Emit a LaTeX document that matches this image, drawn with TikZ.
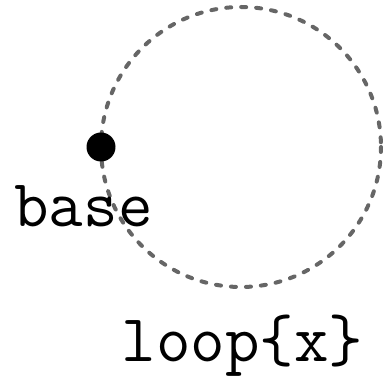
\documentclass[tikz,border=0pt]{standalone}
\begin{document}
\begin{tikzpicture}[x=1pt,y=-1pt,
  lbl/.style={font=\fontsize{67}{72}\selectfont\ttfamily, inner sep=0pt, anchor=base},
  loopline/.style={draw={rgb,255:red,102;green,102;blue,102}, line width=4pt, dash pattern=on 5pt off 10pt, line cap=round},
  dot/.style={circle, fill=black, minimum size=29pt, inner sep=0pt}]
\useasboundingbox (0,0) rectangle (384,382);
\coordinate (c) at (241,147);
\draw[loopline] (c) circle[radius=140];
\node[dot] (base) at (101,147) {};
\node[lbl] (baselbl) at (83.5,227) {base};
\node[lbl] (looplbl) at (242.5,362) {loop\{x\}};
\end{tikzpicture}
\end{document}
